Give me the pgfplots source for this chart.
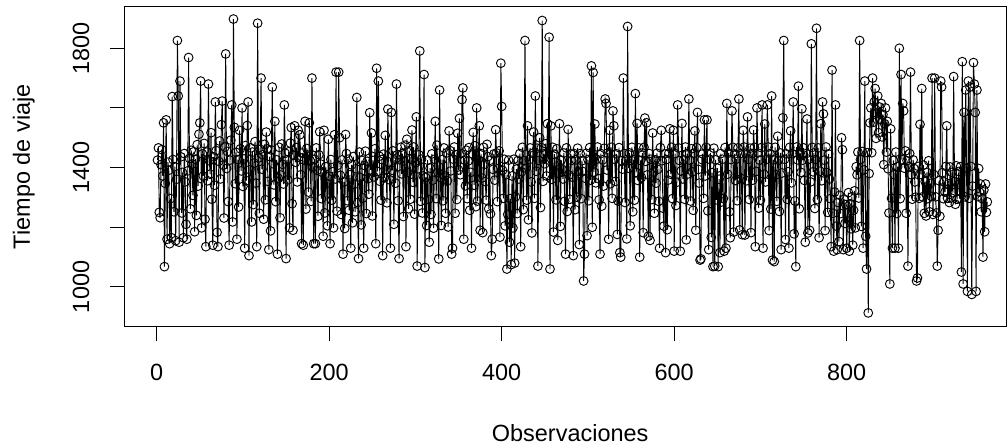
\documentclass[border=0pt]{standalone}
\usepackage{pgfplots}
\pgfplotsset{compat=1.18}
\usepackage{fontspec}
\setmainfont{Liberation Sans}
\newcommand{\rfont}{\fontsize{17.6}{21}\selectfont}
\begin{document}
\begin{tikzpicture}
\begin{axis}[
  scale only axis, width=661.3pt, height=240.2pt,
  xmin=-37.6, xmax=984.7, ymin=865.9, ymax=1939.5,
  axis line style={line width=0.75pt},
  tick align=outside, xtick pos=lower, ytick pos=left,
  major tick length=10.8pt,
  tick style={black, line width=0.75pt},
  xtick={0,200,400,600,800}, xticklabels={0,200,400,600,800},
  ytick={1000,1200,1400,1600,1800}, yticklabels={1000,,1400,,1800},
  tick label style={font=\rfont},
  xticklabel style={anchor=base, inner sep=0pt},
  yticklabel style={rotate=90, anchor=base, inner sep=0pt},
  xticklabel shift=29.5pt, yticklabel shift=15.5pt,
  every axis x label/.style={at={(rel axis cs:0.5,0)}, anchor=base, yshift=-86pt, xshift=3.75pt, font=\rfont},
  every axis y label/.style={at={(rel axis cs:0,0.5)}, rotate=90, anchor=base, yshift=70.7pt, font=\rfont},
  xlabel={Observaciones}, ylabel={Tiempo de viaje},
]
\coordinate (bl) at (rel axis cs:0,0);
\coordinate (tr) at (rel axis cs:1,1);
\addplot[black, line width=0.7pt, mark=o, mark size=3.3pt]
  table[row sep=\\, header=false, x expr=\coordindex+1, y index=0] {
1425\\1466\\1250\\1232\\1410\\1460\\1372\\1550\\1068\\1347\\
1560\\1160\\1418\\1391\\1145\\1296\\1165\\1638\\1427\\1252\\
1403\\1155\\1361\\1826\\1640\\1150\\1690\\1436\\1248\\1384\\
1165\\1447\\1352\\1210\\1160\\1389\\1769\\1431\\1262\\1458\\
1412\\1307\\1453\\1185\\1428\\1240\\1477\\1338\\1512\\1550\\
1690\\1198\\1446\\1372\\1481\\1227\\1135\\1452\\1356\\1680\\
1423\\1378\\1517\\1294\\1140\\1436\\1341\\1620\\1457\\1183\\
1135\\1421\\1489\\1362\\1544\\1623\\1408\\1231\\1469\\1781\\
1397\\1454\\1286\\1140\\1425\\1492\\1610\\1218\\1898\\1535\\
1346\\1451\\1160\\1427\\1268\\1525\\1463\\1389\\1600\\1337\\
1429\\1130\\1474\\1356\\1541\\1620\\1105\\1393\\1466\\1218\\
1452\\1276\\1415\\1487\\1348\\1135\\1884\\1432\\1247\\1461\\
1700\\1395\\1443\\1227\\1478\\1292\\1519\\1463\\1354\\1125\\
1437\\1188\\1459\\1670\\1413\\1342\\1555\\1286\\1426\\1110\\
1364\\1468\\1232\\1375\\1479\\1411\\1345\\1610\\1448\\1095\\
1426\\1359\\1453\\1198\\1482\\1534\\1279\\1190\\1441\\1540\\
1418\\1467\\1352\\1525\\1435\\1510\\1376\\1145\\1449\\1140\\
1425\\1555\\1261\\1464\\1442\\1318\\1550\\1423\\1287\\1700\\
1402\\1145\\1428\\1145\\1466\\1391\\1237\\1443\\1520\\1412\\
1296\\1384\\1170\\1525\\1248\\1403\\1347\\1205\\1495\\1371\\
1145\\1427\\1291\\1386\\1198\\1510\\1362\\1720\\1254\\1408\\
1720\\1500\\1374\\1243\\1426\\1110\\1352\\1196\\1511\\1447\\
1289\\1428\\1257\\1376\\1130\\1409\\1215\\1437\\1344\\1252\\
1396\\1635\\1283\\1095\\1452\\1367\\1208\\1424\\1298\\1130\\
1407\\1455\\1246\\1421\\1363\\1311\\1584\\1392\\1516\\1238\\
1424\\1369\\1463\\1145\\1733\\1387\\1690\\1438\\1354\\1291\\
1427\\1105\\1445\\1366\\1508\\1392\\1282\\1596\\1419\\1359\\
1130\\1585\\1391\\1456\\1210\\1425\\1348\\1680\\1443\\1289\\
1095\\1426\\1468\\1379\\1447\\1236\\1422\\1475\\1135\\1495\\
1384\\1262\\1457\\1294\\1428\\1526\\1351\\1469\\1244\\1416\\
1570\\1070\\1396\\1443\\1791\\1287\\1428\\1248\\1372\\1712\\
1065\\1367\\1206\\1425\\1293\\1150\\1398\\1243\\1446\\1358\\
1197\\1428\\1555\\1296\\1475\\1384\\1094\\1660\\1367\\1206\\
1427\\1289\\1466\\1372\\1247\\1449\\1356\\1201\\1523\\1457\\
1389\\1110\\1130\\1428\\1469\\1247\\1443\\1293\\1515\\1392\\
1565\\1376\\1447\\1628\\1667\\1160\\1425\\1339\\1458\\1296\\
1422\\1467\\1257\\1384\\1130\\1446\\1518\\1341\\1473\\1269\\
1600\\1288\\1426\\1540\\1190\\1447\\1365\\1182\\1468\\1411\\
1353\\1291\\1478\\1437\\1262\\1424\\1245\\1105\\1160\\1394\\
1446\\1358\\1527\\1449\\1286\\1397\\1456\\1167\\1750\\1605\\
1391\\1297\\1428\\1205\\1376\\1060\\1243\\1425\\1150\\1296\\
1075\\1372\\1198\\1428\\1080\\1302\\1395\\1246\\1424\\1362\\
1447\\1135\\1386\\1468\\1259\\1423\\1826\\1398\\1291\\1540\\
1225\\1427\\1466\\1352\\1181\\1448\\1519\\1297\\1640\\1388\\
1465\\1070\\1424\\1500\\1266\\1467\\1893\\1354\\1446\\1413\\
1480\\1372\\1547\\1426\\1837\\1060\\1540\\1361\\1468\\1184\\
1445\\1418\\1292\\1463\\1156\\1381\\1547\\1203\\1425\\1394\\
1362\\1449\\1287\\1110\\1466\\1253\\1528\\1375\\1294\\1446\\
1424\\1368\\1105\\1447\\1259\\1426\\1301\\1465\\1388\\1142\\
1447\\1296\\1423\\1387\\1020\\1110\\1364\\1448\\1172\\1427\\
1289\\1467\\1358\\1741\\1200\\1719\\1385\\1546\\1349\\1428\\
1469\\1363\\1292\\1110\\1447\\1271\\1426\\1338\\1465\\1630\\
1615\\1392\\1449\\1160\\1525\\1346\\1468\\1297\\1590\\1540\\
1428\\1354\\1446\\1176\\1288\\1467\\1115\\1100\\1423\\1395\\
1700\\1447\\1283\\1426\\1161\\1873\\1398\\1449\\1205\\1424\\
1468\\1252\\1427\\1291\\1648\\1384\\1548\\1357\\1466\\1100\\
1424\\1367\\1449\\1182\\1468\\1566\\1421\\1550\\1376\\1170\\
1447\\1156\\1428\\1293\\1516\\1385\\1247\\1426\\1348\\1448\\
1394\\1287\\1130\\1467\\1525\\1423\\1264\\1204\\1446\\1115\\
1427\\1192\\1358\\1449\\1530\\1378\\1468\\1296\\1525\\1120\\
1447\\1273\\1351\\1610\\1466\\1424\\1120\\1389\\1548\\1362\\
1426\\1294\\1469\\1158\\1447\\1379\\1630\\1425\\1288\\1463\\
1386\\1257\\1448\\1523\\1190\\1467\\1585\\1394\\1348\\1090\\
1094\\1427\\1446\\1297\\1560\\1372\\1468\\1560\\1255\\1125\\
1428\\1449\\1166\\1383\\1068\\1465\\1070\\1426\\1292\\1398\\
1068\\1361\\1115\\1447\\1285\\1428\\1296\\1120\\1467\\1130\\
1615\\1378\\1449\\1252\\1165\\1427\\1590\\1468\\1184\\1446\\
1357\\1428\\1289\\1466\\1630\\1191\\1447\\1363\\1175\\1525\\
1469\\1174\\1448\\1356\\1570\\1427\\1293\\1465\\1182\\1447\\
1358\\1526\\1468\\1135\\1387\\1600\\1449\\1264\\1425\\1291\\
1467\\1610\\1130\\1378\\1546\\1352\\1428\\1610\\1469\\1189\\
1447\\1261\\1640\\1090\\1426\\1085\\1468\\1376\\1287\\1505\\
1425\\1253\\1449\\1125\\1382\\1567\\1826\\1428\\1159\\1446\\
1294\\1386\\1130\\1468\\1523\\1349\\1447\\1620\\1178\\1288\\
1068\\1469\\1426\\1673\\1262\\1448\\1384\\1597\\1425\\1466\\
1357\\1150\\1447\\1563\\1181\\1428\\1190\\1352\\1815\\1468\\
1386\\1449\\1263\\1427\\1867\\1293\\1466\\1165\\1388\\1547\\
1356\\1620\\1580\\1425\\1189\\1469\\1383\\1250\\1446\\1362\\
1296\\1135\\1727\\1247\\1120\\1318\\1610\\1204\\1125\\1283\\
1152\\1307\\1246\\1500\\1460\\1125\\1294\\1213\\1276\\1130\\
1248\\1316\\1120\\1279\\1195\\1302\\1140\\1257\\1322\\1198\\
1403\\1376\\1452\\1298\\1826\\1427\\1203\\1454\\1130\\1392\\
1690\\1170\\1060\\1450\\913\\1380\\1550\\1600\\1450\\1700\\
1552\\1620\\1665\\1498\\1583\\1640\\1517\\1603\\1562\\1615\\
1503\\1578\\1410\\1547\\1600\\1452\\1555\\1396\\1248\\1010\\
1530\\1297\\1130\\1424\\1376\\1130\\1452\\1246\\1403\\1130\\
1800\\1296\\1712\\1427\\1615\\1590\\1398\\1456\\1247\\1423\\
1070\\1403\\1447\\1720\\1376\\1294\\1426\\1397\\1352\\1301\\
1020\\1030\\1404\\1297\\1545\\1377\\1665\\1302\\1408\\1247\\
1353\\1238\\1384\\1296\\1423\\1252\\1347\\1304\\1700\\1243\\
1377\\1700\\1302\\1248\\1070\\1190\\1356\\1237\\1690\\1670\\
1383\\1296\\1352\\1318\\1404\\1540\\1297\\1346\\1283\\1402\\
1298\\1384\\1316\\1705\\1353\\1277\\1406\\1294\\1343\\1387\\
1296\\1403\\1050\\1755\\1010\\1585\\1302\\1660\\1398\\985\\
1690\\1297\\1670\\1404\\975\\1338\\1752\\1680\\1585\\985\\
1660\\1303\\1397\\1318\\1345\\1252\\1296\\1100\\1325\\1185\\
1345\\1250\\1285\\
};
\end{axis}
\pgfresetboundingbox
\path[use as bounding box] ([xshift=-93.2pt,yshift=-88.5pt]bl) rectangle ([xshift=0.75pt,yshift=5pt]tr);
\end{tikzpicture}
\end{document}
